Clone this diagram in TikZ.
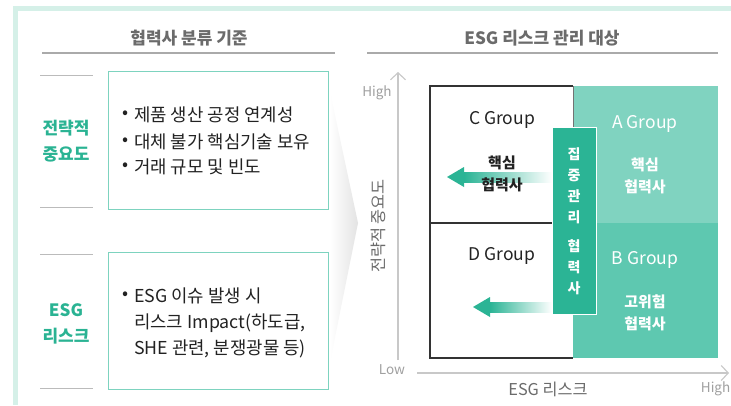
\documentclass[tikz,border=0pt]{standalone}
\usepackage{fontspec}
\setmainfont{Noto Sans CJK KR}
\usetikzlibrary{arrows.meta}
\definecolor{frameg}{HTML}{D5F0E8}
\definecolor{boxg}{HTML}{7DD3BF}
\definecolor{labg}{HTML}{2AB393}
\definecolor{regA}{HTML}{80D3C0}
\definecolor{regB}{HTML}{5EC8B0}
\definecolor{barg}{HTML}{2BB495}
\definecolor{titleg}{HTML}{6B6B6B}
\definecolor{ruleg}{HTML}{AAAAAA}
\definecolor{shortg}{HTML}{BBBBBB}
\definecolor{axisg}{HTML}{C8C8C8}
\definecolor{axtxt}{HTML}{A0A0A0}
\definecolor{txt}{HTML}{222222}
\tikzset{
  paneltitle/.style={font=\fontsize{17}{20}\selectfont\bfseries, text=titleg, inner sep=0pt},
  rulel/.style={draw=ruleg, line width=1.3pt},
  shortl/.style={draw=shortg, line width=1pt},
  critbox/.style={draw=boxg, line width=1pt},
  biglab/.style={font=\fontsize{17}{26}\selectfont\bfseries, text=labg, align=center, inner sep=0pt},
  bul/.style={font=\fontsize{17.8}{20}\selectfont, text=txt, inner sep=0pt},
  bultxt/.style={font=\fontsize{17.8}{20}\selectfont, text=txt, anchor=west, inner sep=0pt},
  grp/.style={font=\fontsize{17.5}{20}\selectfont, inner sep=0pt},
  grpsub/.style={font=\fontsize{15}{22.5}\selectfont\bfseries, align=center, inner sep=0pt},
  axisl/.style={draw=axisg, line width=1.1pt},
  axlab/.style={font=\fontsize{13.5}{16}\selectfont, text=axtxt, inner sep=0pt},
  axname/.style={font=\fontsize{16.3}{18}\selectfont, text=titleg, inner sep=0pt},
  barch/.style={font=\fontsize{14}{21}\selectfont\bfseries, text=white, align=center, inner sep=0pt},
}
\begin{document}
\begin{tikzpicture}[x=1pt,y=-1pt]
\useasboundingbox (0,0) rectangle (731,405);
\fill[white] (0,0) rectangle (731,405);
% frame
\fill[frameg] (13,6) rectangle (731,11);
\fill[frameg] (13,6) rectangle (18,405);
% chevron shadow
\shade[left color=white, right color=black!11] (330,92) -- (358,223) -- (330,362) -- cycle;
% ---------- left panel ----------
\node[paneltitle] (t1) at (189,38) {협력사 분류 기준};
\coordinate (r1a) at (42,53); \coordinate (r1b) at (335,53);
\draw[rulel] (r1a) -- (r1b);
\foreach \i/\yy in {1/75,2/207,3/254,4/388}{
  \coordinate (sa\i) at (40,\yy); \coordinate (sb\i) at (93,\yy);
  \draw[shortl] (sa\i) -- (sb\i);
}
\draw[critbox] (108,71) rectangle (328,209);
\draw[critbox] (108,252) rectangle (328,389);
\node[biglab] (l1) at (66,141) {전략적\\중요도};
\node[biglab] (l2) at (66,324) {ESG\\리스크};
\node[bul] (b1) at (126,115) {•};
\node[bultxt] (b1t) at (134,115) {제품 생산 공정 연계성};
\node[bul] (b2) at (126,142) {•};
\node[bultxt] (b2t) at (134,142) {대체 불가 핵심기술 보유};
\node[bul] (b3) at (126,167) {•};
\node[bultxt] (b3t) at (134,167) {거래 규모 및 빈도};
\node[bul] (b4) at (126,296) {•};
\node[bultxt] (b4t) at (134,296) {ESG 이슈 발생 시};
\node[bultxt] (b5t) at (134,323) {리스크 Impact(하도급,};
\node[bultxt] (b6t) at (134,349) {SHE 관련, 분쟁광물 등)};
% ---------- right panel ----------
\node[paneltitle] (t2) at (542,38) {ESG 리스크 관리 대상};
\coordinate (r2a) at (367,53); \coordinate (r2b) at (718,53);
\draw[rulel] (r2a) -- (r2b);
% axes
\coordinate (ya0) at (398,360); \coordinate (ya1) at (398,72);
\draw[axisl, -{Straight Barb[length=7pt,width=15pt]}] (ya0) -- (ya1);
\coordinate (xa0) at (417,373); \coordinate (xa1) at (729,373);
\draw[axisl, -{Straight Barb[length=7pt,width=15pt]}] (xa0) -- (xa1);
\node[axlab] (hy) at (377,93) {High};
\node[axlab] (lo) at (392,370) {Low};
\node[axlab, anchor=east] (hx) at (730.5,389) {High};
\node[axname] (xn) at (548,389) {ESG 리스크};
\node[axname, rotate=90] (yn) at (378,226) {전략적 중요도};
% matrix
\fill[regA] (573,86) rectangle (718,223);
\fill[regB] (573,223) rectangle (718,358);
\draw[black!80, line width=1.2pt] (573,86) -- (430,86) -- (430,358) -- (573,358);
\draw[black!55, line width=0.8pt] (573,86) -- (573,140);
\draw[black!80, line width=1.2pt] (430,223) -- (552,223);
% arrows
\shade[left color=barg, right color=white] (464,172) rectangle (552,182);
\fill[barg] (447,177) -- (464,167) -- (464,187) -- cycle;
\shade[left color=barg, right color=white] (490,302) rectangle (552,312);
\fill[barg] (473,307) -- (490,297) -- (490,317) -- cycle;
% labels
\node[grp, text=txt] (cg) at (502,120) {C Group};
\node[grp, text=white] (ag) at (645,124) {A Group};
\node[grp, text=txt] (dg) at (502,256) {D Group};
\node[grp, text=white] (bg) at (645,260) {B Group};
\node[grpsub, text=txt] (cs) at (502,174) {핵심\\협력사};
\node[grpsub, text=white] (as) at (645,176) {핵심\\협력사};
\node[grpsub, text=white] (bs) at (645,313) {고위험\\협력사};
% focus bar
\filldraw[fill=barg, draw=white, line width=0.8pt] (552,127) rectangle (596,314);
\node[barch] (bar) at (574,221) {집\\중\\관\\리\\[8pt]협\\력\\사};
\end{tikzpicture}
\end{document}
